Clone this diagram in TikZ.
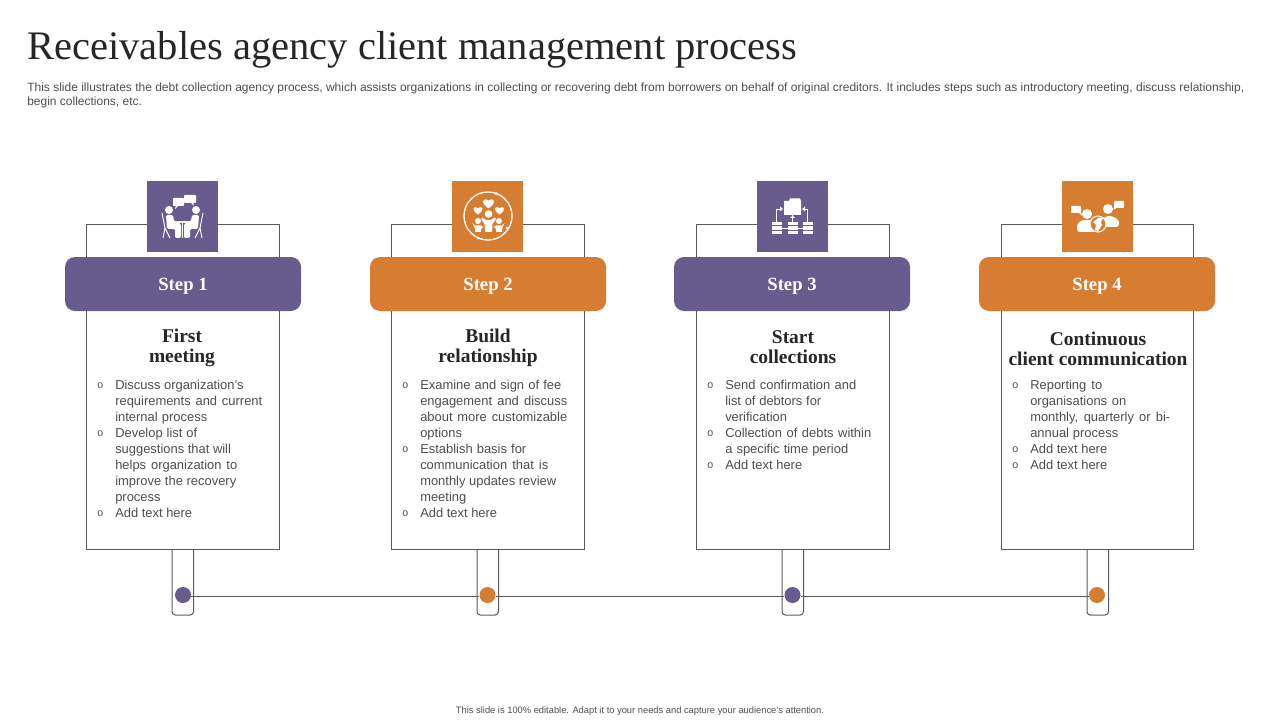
\documentclass[tikz,border=0pt]{standalone}
\usepackage{fontspec}
\setmainfont{Liberation Sans}
\newfontfamily\headfont{Liberation Serif}
\usepackage{tikz}

\definecolor{stepviolet}{RGB}{104,92,142}
\definecolor{steporange}{RGB}{215,125,50}
\definecolor{edgegray}{RGB}{90,90,90}
\definecolor{bodygray}{RGB}{78,78,78}
\definecolor{titledark}{RGB}{38,38,38}

\tikzset{
  card/.style={draw=edgegray, line width=.75pt, fill=white, minimum width=144.6pt, minimum height=243pt, inner sep=0pt},
  band/.style={rounded corners=7.5pt, minimum width=177pt, minimum height=40.5pt, text=white, inner sep=0pt, text depth=0pt, font=\headfont\bfseries\fontsize{14}{15}\selectfont},
  badge/.style={minimum width=53.25pt, minimum height=53.25pt, inner sep=0pt},
  heading/.style={align=center, text=titledark, inner sep=0pt, font=\headfont\bfseries\fontsize{14.6}{15}\selectfont},
  points/.style={anchor=north west, align=left, text=bodygray, inner sep=0pt, font=\fontsize{9.7}{12}\selectfont},
  joint/.style={circle, minimum size=12pt, inner sep=0pt},
  tab/.style={draw=edgegray, line width=.75pt, rounded corners=2.5pt},
  link/.style={draw=edgegray, line width=.75pt},
  glyph/.style={fill=white, draw=none},
  wire/.style={draw=white, line width=.7pt}
}
\newcommand{\bul}{\llap{\raisebox{.6pt}{\fontsize{8}{12}\selectfont o}\hspace{9pt}}}
\newcommand{\jl}[2]{\makebox[\dimexpr #1pt*3/4\relax][s]{#2}}
\newcommand{\hrt}[3]{\fill[white] (#1,#2+#3*.9) .. controls (#1-#3*1.5,#2-#3*.1) and (#1-#3*.9,#2-#3) .. (#1,#2-#3*.4) .. controls (#1+#3*.9,#2-#3) and (#1+#3*1.5,#2-#3*.1) .. (#1,#2+#3*.9) -- cycle;}

\begin{document}
\begin{tikzpicture}[x=.75pt, y=-.75pt]
\useasboundingbox (0,0) rectangle (1280,720);

\node[anchor=base west, inner sep=0pt, text=titledark, font=\headfont\fontsize{30.4}{34}\selectfont] (title) at (27,59.5) {Receivables agency client management process};
\node[anchor=north west, inner sep=0pt, text=bodygray, align=left, font=\fontsize{9}{10.5}\selectfont] (intro) at (27,83) {This slide illustrates the debt collection agency process, which assists organizations in collecting or recovering debt from borrowers on behalf of original creditors. It includes steps such as introductory meeting, discuss relationship,\\begin collections, etc.};

% stems under the cards
\draw[tab] (172,530) -- (172,615) -- (193.5,615) -- (193.5,530);
\draw[tab] (477,530) -- (477,615) -- (498.5,615) -- (498.5,530);
\draw[tab] (782,530) -- (782,615) -- (803.5,615) -- (803.5,530);
\draw[tab] (1087,530) -- (1087,615) -- (1108.5,615) -- (1108.5,530);

% cards
\node[card] (cardA) at (183,387) {};
\node[card] (cardB) at (488,387) {};
\node[card] (cardC) at (793,387) {};
\node[card] (cardD) at (1097.5,387) {};

% bands
\node[band, fill=stepviolet] (stepA) at (183,284) {Step 1};
\node[band, fill=steporange] (stepB) at (488,284) {Step 2};
\node[band, fill=stepviolet] (stepC) at (792,284) {Step 3};
\node[band, fill=steporange] (stepD) at (1097,284) {Step 4};

% badges
\node[badge, fill=stepviolet] (badgeA) at (182.5,216.5) {};
\node[badge, fill=steporange] (badgeB) at (487.5,216.5) {};
\node[badge, fill=stepviolet] (badgeC) at (792.5,216.5) {};
\node[badge, fill=steporange] (badgeD) at (1097.5,216.5) {};

% headings
\node[heading] (headA) at (182,348) {First\\meeting};
\node[heading] (headB) at (488,348) {Build\\relationship};
\node[heading] (headC) at (793,347) {Start\\collections};
\node[heading] (headD) at (1098,349) {Continuous\\client communication};

% lists
\node[points] (listA) at (115,380) {\bul Discuss organization's\\\jl{147}{requirements and current}\\\jl{92}{internal process}\\\bul\jl{82}{Develop list of}\\suggestions that will\\\jl{122}{helps organization to}\\\jl{121}{improve the recovery}\\process\\\bul Add text here};
\node[points] (listB) at (420,380) {\bul\jl{141}{Examine and sign of fee}\\\jl{147}{engagement and discuss}\\\jl{147}{about more customizable}\\options\\\bul\jl{106}{Establish basis for}\\\jl{128}{communication that is}\\\jl{136}{monthly updates review}\\meeting\\\bul Add text here};
\node[points] (listC) at (725,380) {\bul\jl{131}{Send confirmation and}\\\jl{96}{list of debtors for}\\verification\\\bul\jl{146}{Collection of debts within}\\\jl{123}{a specific time period}\\\bul Add text here};
\node[points] (listD) at (1030,380) {\bul\jl{72}{Reporting to}\\\jl{96}{organisations on}\\\jl{140}{monthly, quarterly or bi-}\\\jl{88}{annual process}\\\bul Add text here\\\bul Add text here};

% timeline
\node[joint, fill=stepviolet] (dotA) at (183,595) {};
\node[joint, fill=steporange] (dotB) at (487.5,595) {};
\node[joint, fill=stepviolet] (dotC) at (792.5,595) {};
\node[joint, fill=steporange] (dotD) at (1097,595) {};
\draw[link] ([yshift=-1.1pt]dotA.east) -- ([yshift=-1.1pt]dotB.west);
\draw[link] ([yshift=-1.1pt]dotB.east) -- ([yshift=-1.1pt]dotC.west);
\draw[link] ([yshift=-1.1pt]dotC.east) -- ([yshift=-1.1pt]dotD.west);

% meeting icon
\fill[glyph, rounded corners=.6pt] (173,198) rectangle (184,206);
\fill[glyph] (176,205) -- (179,205) -- (175,209) -- cycle;
\fill[glyph, rounded corners=.6pt] (184,195) rectangle (196,203);
\fill[glyph] (190,202) -- (193,202) -- (194,206) -- cycle;
\fill[glyph] (169,210) circle (4);
\fill[glyph] (196,210) circle (4);
\fill[glyph, rounded corners=1pt] (166,215) -- (173,215) -- (174,221) -- (181,224) -- (181,238) -- (175,238) -- (175,229) -- (167,229) -- cycle;
\fill[glyph, rounded corners=1pt] (199,215) -- (192,215) -- (191,221) -- (184,224) -- (184,238) -- (190,238) -- (190,229) -- (198,229) -- cycle;
\fill[glyph] (173,221.5) rectangle (192,223);
\fill[glyph] (182,223) rectangle (183,238);
\draw[wire] (162,213) -- (165,228) -- (163,238);
\draw[wire] (165,228) -- (170,238);
\draw[wire] (203,213) -- (200,228) -- (202,238);
\draw[wire] (200,228) -- (195,238);

% relationship icon
\draw[wire, line width=1pt] (488,216) circle (24);
\fill[glyph] (496,193.5) circle (1.5);
\fill[glyph] (507,228) circle (1.5);
\fill[glyph] (478,238) circle (1.5);
\hrt{488.5}{203}{6}
\hrt{478}{210}{5}
\hrt{499.5}{210}{5}
\fill[glyph] (488.5,214) circle (3.8);
\fill[glyph] (478,221) circle (3);
\fill[glyph] (499,221) circle (3);
\fill[glyph] (482.5,217.5) -- (486,220) -- (491,220) -- (494.5,217.5) -- (496,219) -- (492.5,224) -- (492,232) -- (485,232) -- (484.5,224) -- (481,219) -- cycle;
\fill[glyph] (472.5,223) -- (475,225.5) -- (481,225.5) -- (483,227) -- (481,229) -- (481,232) -- (475,232) -- (475,229) -- cycle;
\fill[glyph] (504.5,223) -- (502,225.5) -- (496,225.5) -- (494,227) -- (496,229) -- (496,232) -- (502,232) -- (502,229) -- cycle;

% collections icon
\fill[glyph] (784,201) -- (789,201) -- (790,198.5) -- (800,198.5) -- (801,201) -- (801,215) -- (784,215) -- cycle;
\draw[wire] (776.5,222) -- (776.5,209) -- (781,209);
\draw[wire] (807.5,222) -- (807.5,209) -- (804,209);
\draw[wire] (792.5,215) -- (792.5,222);
\draw[wire] (782,228) -- (803,228);
\fill[glyph] (780,206.5) -- (783,209) -- (780,211.5) -- cycle;
\fill[glyph] (805,206.5) -- (802,209) -- (805,211.5) -- cycle;
\fill[glyph] (790,218) -- (792.5,215.5) -- (795,218) -- cycle;
\foreach \sx in {772,788,803} {
  \fill[glyph] (\sx,222) rectangle ++(10,3.2);
  \fill[glyph] (\sx,226.4) rectangle ++(10,3.2);
  \fill[glyph] (\sx,230.8) rectangle ++(10,3.2);
}

% communication icon
\fill[glyph, rounded corners=.6pt] (1071,206) rectangle (1081,213);
\fill[glyph] (1078,212) -- (1081,212) -- (1082,216) -- cycle;
\fill[glyph, rounded corners=.6pt] (1114,201) rectangle (1124,208);
\fill[glyph] (1115,207) -- (1118,207) -- (1113,210) -- cycle;
\fill[glyph] (1087,214) circle (5);
\fill[glyph] (1108,209) circle (5);
\fill[glyph, rounded corners=2pt] (1077,232) -- (1077,224) -- (1082,220) -- (1092,220) -- (1097,224) -- (1097,232) -- cycle;
\fill[glyph, rounded corners=2pt] (1103,227) -- (1103,219) -- (1106,216) -- (1112,216) -- (1119,220) -- (1119,227) -- cycle;
\filldraw[fill=steporange, draw=white, line width=.8pt] (1098,224) circle (8);
\fill[glyph] (1099,217.5) -- (1103,218) -- (1101,222) -- (1102,225) -- (1098,231) -- (1095,230) -- (1096,225) -- (1093,222) -- cycle;

\node[inner sep=0pt, text=bodygray, font=\fontsize{7}{8}\selectfont] (foot) at (640,711) {This slide is 100\% editable. Adapt it to your needs and capture your audience's attention.};
\end{tikzpicture}
\end{document}
